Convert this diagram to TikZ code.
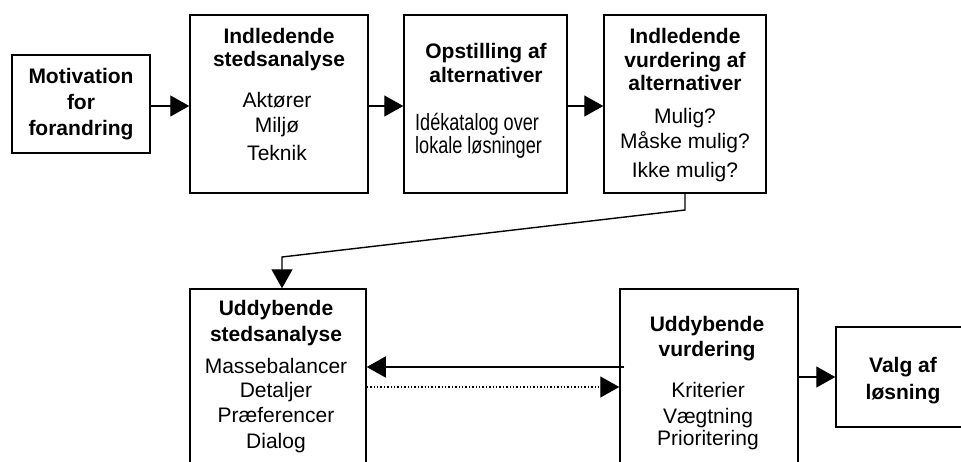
\documentclass[tikz,border=0pt]{standalone}
\usepackage{fontspec}
\setmainfont{Liberation Sans}
\newfontfamily\narrowfont[FakeStretch=0.77]{Liberation Sans}
\usetikzlibrary{arrows.meta}
\begin{document}
\begin{tikzpicture}[x=1pt,y=-1pt,
  box/.style={draw=black, line width=1.5pt, inner sep=0pt, fill=none},
  arr/.style={line width=1.4pt, -{Triangle[length=19pt,width=21pt]}},
  tb/.style={anchor=base, inner sep=0pt, font=\fontsize{21}{25}\selectfont\bfseries},
  tr/.style={anchor=base, inner sep=0pt, font=\fontsize{21}{25}\selectfont},
  tn/.style={anchor=base west, inner sep=0pt, font=\fontsize{23.5}{27}\narrowfont}]
\useasboundingbox (0,0) rectangle (961,461);
\clip (0,0) rectangle (961,461);
\fill[white] (0,0) rectangle (961,461);
% boxes
\node[box, minimum width=138pt, minimum height=98pt] (b1) at (81,104) {};
\node[box, minimum width=178pt, minimum height=178pt] (b2) at (279,104) {};
\node[box, minimum width=163pt, minimum height=178pt] (b3) at (485.5,104) {};
\node[box, minimum width=162pt, minimum height=178pt] (b4) at (685,104) {};
\node[box, minimum width=176pt, minimum height=191pt] (b5) at (278,384.5) {};
\node[box, minimum width=178pt, minimum height=191pt] (b6) at (709,384.5) {};
\node[box, minimum width=134pt, minimum height=100pt] (b7) at (903,377) {};
% texts box 1
\node[tb] (m1) at (81,83) {Motivation};
\node[tb] (m2) at (81,109) {for};
\node[tb] (m3) at (81,135) {forandring};
% box 2
\node[tb] (s1) at (279,43) {Indledende};
\node[tb] (s2) at (279,66) {stedsanalyse};
\node[tr] (s3) at (277,107) {Aktører};
\node[tr] (s4) at (277,132) {Miljø};
\node[tr] (s5) at (277,160) {Teknik};
% box 3
\node[tb] (o1) at (486,58) {Opstilling af};
\node[tb] (o2) at (486,82) {alternativer};
\node[tn] (o3) at (415,130) {Idékatalog over};
\node[tn] (o4) at (415,153) {lokale løsninger};
% box 4
\node[tb] (v1) at (685,43) {Indledende};
\node[tb] (v2) at (685,67) {vurdering af};
\node[tb] (v3) at (685,90) {alternativer};
\node[tr] (v4) at (685,123) {Mulig?};
\node[tr] (v5) at (685,148) {Måske mulig?};
\node[tr] (v6) at (685,177) {Ikke mulig?};
% box 5
\node[tb] (u1) at (276,315) {Uddybende};
\node[tb] (u2) at (276,341) {stedsanalyse};
\node[tr] (u3) at (276,373) {Massebalancer};
\node[tr] (u4) at (276,397) {Detaljer};
\node[tr] (u5) at (276,422) {Præferencer};
\node[tr] (u6) at (276,448) {Dialog};
% box 6
\node[tb] (w1) at (707,331) {Uddybende};
\node[tb] (w2) at (707,356) {vurdering};
\node[tr] (w3) at (708,397) {Kriterier};
\node[tr] (w4) at (708,423) {Vægtning};
\node[tr] (w5) at (708,445) {Prioritering};
% box 7
\node[tb] (l1) at (903,372) {Valg af};
\node[tb] (l2) at (903,399) {løsning};
% connectors
\draw[arr] ([shift={(0,2)}]b1.east) -- ([shift={(0,2)}]b2.west);
\draw[arr] ([shift={(0,2)}]b2.east) -- ([shift={(0,2)}]b3.west);
\draw[arr] ([shift={(0,2)}]b3.east) -- ([shift={(0,2)}]b4.west);
\coordinate (k1) at (685,210);
\coordinate (k2) at (282,257);
\draw[arr] (b4.south) -- (k1) -- (k2) -- (k2 |- b5.north);
\draw[arr] ([shift={(5,-17.5)}]b6.west) -- ([shift={(0,-17.5)}]b5.east);
\draw[arr, dotted] ([shift={(0,2.5)}]b5.east) -- ([shift={(0,2.5)}]b6.west);
\draw[arr] ([shift={(-2,-7.5)}]b6.east) -- (b7.west);
\end{tikzpicture}
\end{document}
